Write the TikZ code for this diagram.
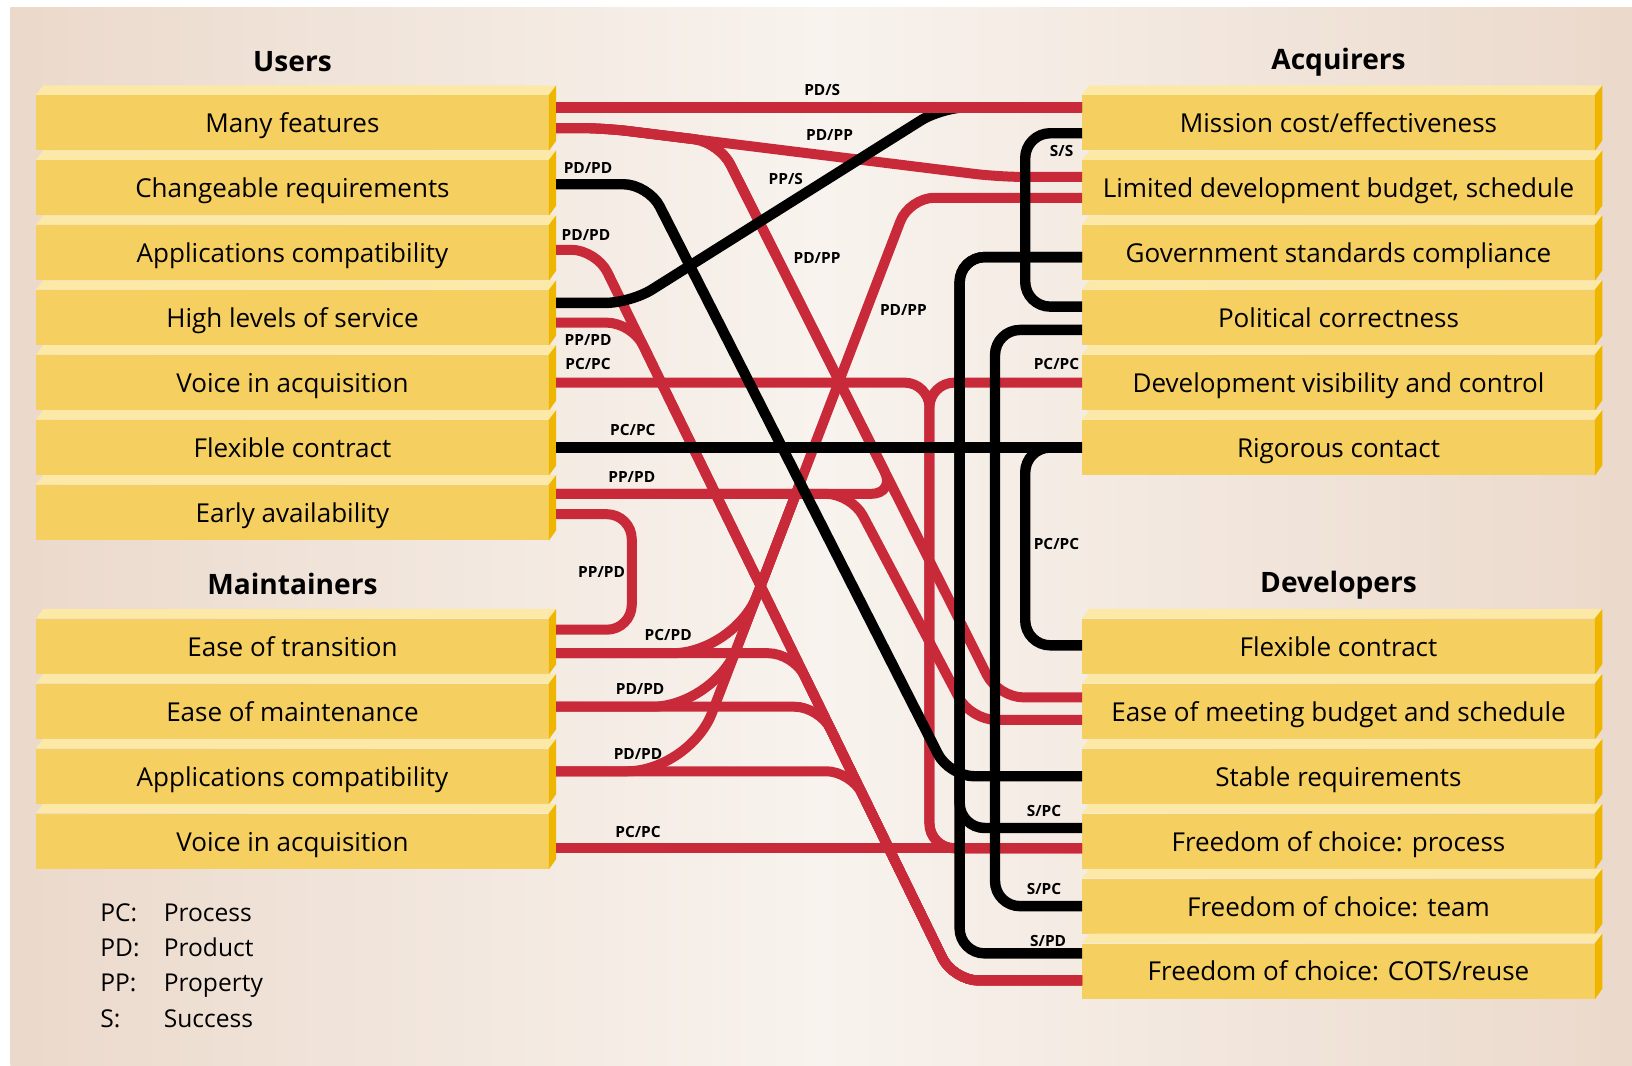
\documentclass[tikz,border=0pt]{standalone}
\usepackage{fontspec}
\setmainfont{Open Sans}
\usetikzlibrary{calc}

\definecolor{boxface}{HTML}{F5CF60}
\definecolor{boxtop}{HTML}{FCE9A8}
\definecolor{boxside}{HTML}{EEB600}
\definecolor{trackred}{HTML}{C92A3A}
\definecolor{bgedge}{HTML}{EBD9CB}
\definecolor{bgmid}{HTML}{F8F3EE}

\tikzset{
  rowbox/.style={rectangle, fill=boxface, minimum width=246pt, minimum height=26.5pt,
    inner sep=0pt, text height=9.5pt, text depth=0pt, font=\fontsize{12.5}{14}\selectfont},
  heading/.style={font=\bfseries\fontsize{13.5}{15}\selectfont},
  linktag/.style={inner sep=0pt, font=\bfseries\fontsize{7.4}{9}\selectfont},
  legendkey/.style={anchor=base west, inner sep=0pt, font=\fontsize{11.8}{13}\selectfont},
  track/.style={line width=4.8pt, rounded corners=12pt},
  redtrack/.style={track, draw=trackred},
  blacktrack/.style={track, draw=black, line width=5pt}
}

\begin{document}
\begin{tikzpicture}[x=0.5pt, y=-0.5pt]
\useasboundingbox (0,0) rectangle (1568,1024);
\shade[left color=bgedge, right color=bgedge, middle color=bgmid] (10,7) rectangle (1568,1024);

% headings
\node[heading] (users) at (281,59) {Users};
\node[heading] (maint) at (281,561) {Maintainers};
\node[heading] (acq) at (1286,60) {Acquirers};
\node[heading] (dev) at (1286,562) {Developers};

% stakeholder rows
\foreach \t [count=\i] in {Many features, Changeable requirements, Applications compatibility,
    High levels of service, Voice in acquisition, Flexible contract, Early availability}
  \node[rowbox] (u\i) at (281,{118+62.4*(\i-1)}) {\t};
\foreach \t [count=\i] in {Ease of transition, Ease of maintenance, Applications compatibility,
    Voice in acquisition}
  \node[rowbox] (m\i) at (281,{621+62.4*(\i-1)}) {\t};
\foreach \t [count=\i] in {Mission cost/effectiveness, {Limited development budget, schedule},
    Government standards compliance, Political correctness, Development visibility and control,
    Rigorous contact}
  \node[rowbox] (a\i) at (1286,{118+62.4*(\i-1)}) {\t};
\foreach \t [count=\i] in {Flexible contract, Ease of meeting budget and schedule, Stable requirements,
    {Freedom of choice: process}, {Freedom of choice: team}, {Freedom of choice: COTS/reuse}}
  \node[rowbox] (d\i) at (1286,{621+62.4*(\i-1)}) {\t};

% top and side faces
\foreach \n in {u1,u2,u3,u4,u5,u6,u7,m1,m2,m3,m4,a1,a2,a3,a4,a5,a6,d1,d2,d3,d4,d5,d6} {
  \fill[boxtop] (\n.north west) -- ++(7,-9) -- ($(\n.north east)+(7,-9)$) -- (\n.north east) -- cycle;
  \fill[boxside] (\n.north east) -- ++(7,-9) -- ++(0,53) -- (\n.south east) -- cycle;
}

% trunk bends
\coordinate (atop) at (573,240);
\coordinate (abot) at (916,942);
\coordinate (btop) at (873.7,190);
\coordinate (bbot) at (662.6,741);
\coordinate (bmid) at ($(btop)!0.5!(bbot)$);
\coordinate (fork) at (691,136.7);
\coordinate (forkend) at (959,670);
\coordinate (bus) at (893,367.6);
\coordinate (busend) at (893,815);

% red links
\draw[redtrack] ($(u1.east)+(7,5)$) -- (580,123) -- (960,170) -- ($(a2.west)+(0,-10.4)$);
\draw[redtrack] ($(u1.east)+(7,5)$) -- (580,123) -- (fork) -- (forkend) -- ($(d2.west)+(0,-13.4)$);
\draw[redtrack] ($(u3.east)+(7,-2.8)$) -- (atop) -- (abot) -- ($(d6.west)+(0,9)$);
\draw[redtrack] ($(u4.east)+(7,4.8)$) -- (607.2,310) -- (abot) -- ($(d6.west)+(0,9)$);
\draw[redtrack] ($(u5.east)+(7,0)$) -- (bus) -- (busend) -- ($(d4.west)+(0,6.8)$);
\draw[redtrack] (a5.west) -- (bus) -- (busend) -- ($(d4.west)+(0,6.8)$);
\draw[redtrack] ($(u7.east)+(7,-17.9)$) -- (860.7,474.5) -- (fork) -- (580,123) -- ($(u1.east)+(7,5)$);
\draw[redtrack] ($(u7.east)+(7,-17.9)$) -- (818,474.5) -- (932.5,691.6) -- ($(d2.west)+(0,8.2)$);
\draw[redtrack] ($(u7.east)+(7,1.6)$) -- (607,494) -- (607,605) -- ($(m1.east)+(7,-16)$);
\draw[redtrack] ($(m1.east)+(7,6.6)$) -- (762.4,627.6) -- (abot) -- ($(d6.west)+(0,9)$);
\draw[redtrack] ($(m2.east)+(7,-4.4)$) -- (787.5,679) -- (abot) -- ($(d6.west)+(0,9)$);
\draw[redtrack] ($(m3.east)+(7,-4.8)$) -- (817.8,741) -- (abot) -- ($(d6.west)+(0,9)$);
\draw[redtrack] ($(a2.west)+(0,9.6)$) -- (btop) -- (bmid);
\draw[redtrack, rounded corners=30pt] (bmid) -- (bbot) -- ($(m3.east)+(7,-4.8)$);
\draw[redtrack, rounded corners=30pt] (bmid) -- (706.1,627.6) -- ($(m1.east)+(7,6.6)$);
\draw[redtrack, rounded corners=30pt] (bmid) -- (686.4,679) -- ($(m2.east)+(7,-4.4)$);
\draw[redtrack] ($(m4.east)+(7,6.8)$) -- ($(d4.west)+(0,6.8)$);

% black links
\draw[blacktrack] ($(u2.east)+(7,-3.4)$) -- (623,177) -- (912,745.8) -- (d3.west);
\draw[blacktrack] ($(u4.east)+(7,-14.2)$) -- (606,291) -- (905,103) -- ($(a1.west)+(0,-15)$);
\draw[blacktrack] ($(u6.east)+(7,0)$) -- (a6.west);
\draw[blacktrack] ($(a1.west)+(0,10)$) -- (985,128) -- (985,294.6) -- ($(a4.west)+(0,-10.6)$);
\draw[blacktrack] ($(a3.west)+(0,4.2)$) -- (922,247) -- (922,916) -- ($(d6.west)+(0,-17)$);
\draw[blacktrack] ($(a3.west)+(0,4.2)$) -- (922,247) -- (922,795.5) -- ($(d4.west)+(0,-12.7)$);
\draw[blacktrack] ($(a4.west)+(0,11.8)$) -- (956,317) -- (956,870.6) -- (d5.west);
\draw[blacktrack] (a6.west) -- (985,430) -- (985,620) -- ($(d1.west)+(0,-1)$);
\draw[redtrack, line width=5.2pt] ($(u1.east)+(7,-15)$) -- ($(a1.west)+(0,-15)$);

% link labels
\node[linktag] (t1) at (790,86) {PD/S};
\node[linktag] (t2) at (797,130) {PD/PP};
\node[linktag] (t3) at (565,161) {PD/PD};
\node[linktag] (t4) at (755,172) {PP/S};
\node[linktag] (t5) at (563,226) {PD/PD};
\node[linktag] (t6) at (785,248) {PD/PP};
\node[linktag] (t7) at (868,298) {PD/PP};
\node[linktag] (t8) at (565,327) {PP/PD};
\node[linktag] (t9) at (565,350) {PC/PC};
\node[linktag] (t10) at (608,413) {PC/PC};
\node[linktag] (t11) at (607,458) {PP/PD};
\node[linktag] (t12) at (578,550) {PP/PD};
\node[linktag] (t13) at (642,610) {PC/PD};
\node[linktag] (t14) at (615,662) {PD/PD};
\node[linktag] (t15) at (613,724) {PD/PD};
\node[linktag] (t16) at (613,799) {PC/PC};
\node[linktag] (t17) at (1020,145) {S/S};
\node[linktag] (t18) at (1015,350) {PC/PC};
\node[linktag] (t19) at (1015,523) {PC/PC};
\node[linktag] (t20) at (1003,779) {S/PC};
\node[linktag] (t21) at (1003,854) {S/PC};
\node[linktag] (t22) at (1007,904) {S/PD};

% legend
\node[legendkey] (kpc) at (96,885) {PC:};
\node[legendkey] (kpcv) at (157,885) {Process};
\node[legendkey] (kpd) at (96,919) {PD:};
\node[legendkey] (kpdv) at (157,919) {Product};
\node[legendkey] (kpp) at (96,953) {PP:};
\node[legendkey] (kppv) at (157,953) {Property};
\node[legendkey] (ks) at (96,987) {S:};
\node[legendkey] (ksv) at (157,987) {Success};
\end{tikzpicture}
\end{document}
